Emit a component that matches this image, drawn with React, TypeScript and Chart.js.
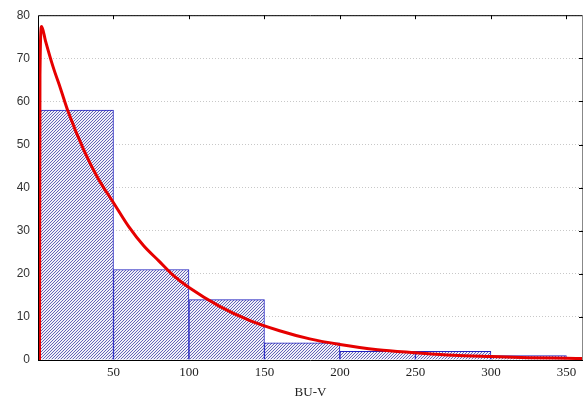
import React, { useEffect, useRef } from "react";
import { Chart, registerables } from "chart.js";

Chart.register(...registerables);

// Histogram bins and counts
const binStarts = [0, 50, 100, 150, 200, 250, 300];
const binWidth = 50;
const counts = [58, 21, 14, 4, 2, 2, 1];

// Fitted curve
const curveX = [1, 1.3, 2.4, 5, 10, 15, 20, 30, 40, 50, 60, 70, 80, 90, 100, 120, 140, 160, 180, 200, 225, 250, 275, 300, 325, 350, 361];
const curveY = [0, 66, 77.4, 74, 68, 62.9, 57.6, 49, 42, 36.5, 31, 26.5, 23, 19.5, 16.8, 12.5, 9.2, 6.8, 4.9, 3.6, 2.4, 1.7, 1.1, 0.8, 0.55, 0.4, 0.33];

const xTicks = [50, 100, 150, 200, 250, 300, 350];
const xMin = 0;
const xMax = 361;
const yMin = 0;
const yMax = 80;
const yStep = 10;
const xTitle = "BU-V";

function makeHatch(): CanvasPattern | string {
  const c = document.createElement("canvas");
  c.width = 3;
  c.height = 3;
  const g = c.getContext("2d");
  if (!g) return "#a8a8d0";
  g.fillStyle = "#f0f0f8";
  g.fillRect(0, 0, 3, 3);
  g.fillStyle = "#6464b8";
  g.fillRect(0, 2, 1, 1);
  g.fillRect(1, 1, 1, 1);
  g.fillRect(2, 0, 1, 1);
  const p = g.createPattern(c, "repeat");
  return p || "#a8a8d0";
}

const framePlugin = {
  id: "frame",
  afterDatasetsDraw(chart: any) {
    const { ctx, chartArea } = chart;
    const { left, right, top, bottom } = chartArea;
    const xs = chart.scales.x;
    const ys = chart.scales.y;
    ctx.save();
    ctx.strokeStyle = "#000000";
    ctx.lineWidth = 1;
    ctx.beginPath();
    ctx.moveTo(left + 0.5, bottom + 0.5);
    ctx.lineTo(left + 0.5, top + 0.5);
    ctx.lineTo(right - 0.5, top + 0.5);
    ctx.moveTo(left, bottom + 0.5);
    ctx.lineTo(right, bottom + 0.5);
    ctx.stroke();
    ctx.strokeStyle = "#888888";
    ctx.beginPath();
    ctx.moveTo(right - 0.5, top);
    ctx.lineTo(right - 0.5, bottom);
    ctx.stroke();
    // inward ticks on top and right
    ctx.strokeStyle = "#000000";
    ctx.beginPath();
    for (const v of xTicks) {
      const px = Math.round(xs.getPixelForValue(v)) + 0.5;
      ctx.moveTo(px, top);
      ctx.lineTo(px, top + 4);
    }
    for (let v = yMin + yStep; v < yMax; v += yStep) {
      const py = Math.round(ys.getPixelForValue(v)) + 0.5;
      ctx.moveTo(right, py);
      ctx.lineTo(right - 4, py);
    }
    ctx.stroke();
    ctx.restore();
  },
};

export default function App() {
  const ref = useRef<HTMLCanvasElement>(null);
  useEffect(() => {
    if (!ref.current) return;
    const hatch = makeHatch();
    const chart = new Chart(ref.current, {
      type: "bar",
      data: {
        datasets: [
          {
            type: "line",
            data: curveX.map((x, i) => ({ x, y: curveY[i] })),
            borderColor: "#e60000",
            borderWidth: 3,
            pointRadius: 0,
            cubicInterpolationMode: "monotone",
            fill: false,
            order: 0,
          } as any,
          {
            type: "bar",
            data: binStarts.map((s, i) => ({ x: s + binWidth / 2, y: counts[i] })),
            backgroundColor: hatch as any,
            borderColor: "#2020c0",
            borderWidth: 1,
            borderSkipped: "bottom",
            barPercentage: 1,
            categoryPercentage: 1,
            grouped: false,
            order: 1,
          } as any,
        ],
      },
      options: {
        animation: false,
        responsive: true,
        maintainAspectRatio: false,
        layout: { padding: { left: 0, right: 1, top: 13, bottom: 0 } },
        plugins: { legend: { display: false }, tooltip: { enabled: false } },
        scales: {
          x: {
            type: "linear",
            min: xMin,
            max: xMax,
            offset: false,
            afterBuildTicks: (s: any) => {
              s.ticks = xTicks.map((v) => ({ value: v }));
            },
            afterFit: (s: any) => {
              s.height = 45;
            },
            grid: { display: false, drawTicks: false },
            border: { display: false },
            ticks: {
              padding: 5,
              color: "#222222",
              font: { family: "Liberation Serif", size: 13 },
              maxRotation: 0,
              autoSkip: false,
            },
            title: {
              display: true,
              text: xTitle,
              color: "#222222",
              font: { family: "Liberation Serif", size: 13 },
              padding: { top: 0, bottom: 5 },
            },
          },
          y: {
            type: "linear",
            min: yMin,
            max: yMax,
            afterFit: (s: any) => {
              s.width = 38;
            },
            grid: { display: true, color: "#c8c8c8", drawTicks: false, lineWidth: 1 },
            border: { display: false, dash: [1, 2] },
            ticks: {
              stepSize: yStep,
              padding: 8,
              color: "#333333",
              font: { family: "Liberation Sans", size: 12 },
            },
          },
        },
      },
      plugins: [framePlugin],
    });
    return () => chart.destroy();
  }, []);
  return (
    <div style={{ position: "absolute", left: 0, top: 0, width: 584, height: 405, background: "#fff" }}>
      <canvas ref={ref} />
    </div>
  );
}
